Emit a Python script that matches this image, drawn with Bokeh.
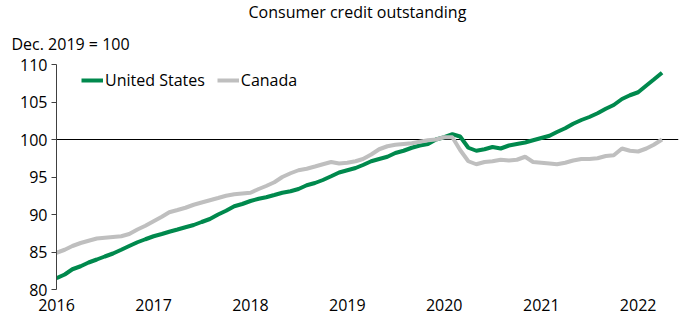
import pandas as pd
from bokeh.plotting import figure
from bokeh.models import (Range1d, FixedTicker, DatetimeTickFormatter, Span, Title,
                          Legend, LegendItem)
from bokeh.embed import file_html
from bokeh.resources import INLINE

# ---- data (monthly, Jan 2016 - Apr 2022; Dec. 2019 = 100) ----
start_month = "2016-01-01"
n_months = 76
united_states = [
    81.5, 82.0, 82.7, 83.1, 83.6, 84.0, 84.4, 84.8, 85.3, 85.8, 86.3, 86.7,
    87.1, 87.4, 87.7, 88.0, 88.3, 88.6, 89.0, 89.4, 90.0, 90.5, 91.1, 91.4,
    91.8, 92.1, 92.3, 92.6, 92.9, 93.1, 93.4, 93.9, 94.2, 94.6, 95.1, 95.6,
    95.9, 96.2, 96.6, 97.1, 97.4, 97.7, 98.2, 98.5, 98.9, 99.2, 99.4, 100.0,
    100.3, 100.7, 100.4, 98.9, 98.5, 98.7, 99.0, 98.8, 99.2, 99.4, 99.6, 99.9,
    100.2, 100.5, 101.0, 101.5, 102.1, 102.6, 103.0, 103.5, 104.1, 104.6, 105.4, 105.9,
    106.3, 107.2, 108.0, 108.9,
]
canada = [
    84.9, 85.3, 85.8, 86.2, 86.5, 86.8, 86.9, 87.0, 87.1, 87.4, 88.0, 88.5,
    89.1, 89.7, 90.3, 90.6, 90.9, 91.3, 91.6, 91.9, 92.2, 92.5, 92.7, 92.8,
    92.9, 93.4, 93.8, 94.3, 95.0, 95.5, 95.9, 96.1, 96.4, 96.7, 97.0, 96.8,
    96.9, 97.1, 97.4, 98.0, 98.7, 99.1, 99.3, 99.4, 99.5, 99.7, 99.9, 100.0,
    100.3, 100.3, 98.6, 97.1, 96.7, 97.0, 97.1, 97.3, 97.2, 97.3, 97.7, 97.0,
    96.9, 96.8, 96.7, 96.9, 97.2, 97.4, 97.4, 97.5, 97.8, 97.9, 98.8, 98.5,
    98.4, 98.8, 99.3, 100.0,
]
year_ticks = [2016, 2017, 2018, 2019, 2020, 2021, 2022]
y_ticks = [80, 85, 90, 95, 100, 105, 110]
series_names = ["United States", "Canada"]

dates = pd.date_range(start_month, periods=n_months, freq="MS")

GREEN = "#00894D"
GREY = "#BFBFBF"
FONT = "Open Sans"
FS = "16px"

p = figure(width=684, height=314, x_axis_type="datetime",
           output_backend="svg", toolbar_location=None,
           x_range=Range1d(pd.Timestamp("2016-01-01"), pd.Timestamp("2022-06-02")),
           y_range=Range1d(80, 110),
           min_border_left=56, min_border_right=6, min_border_top=64,
           min_border_bottom=25, outline_line_color=None,
           title="Consumer credit outstanding")
p.title.align = "left"
p.title.offset = 192
p.title.text_font = FONT
p.title.text_font_size = FS
p.title.text_font_style = "normal"
p.title.text_color = "black"
p.title.standoff = -5

sub = Title(text="Dec. 2019 = 100", align="left", offset=-45, text_font=FONT,
            text_font_size=FS, text_font_style="normal", text_color="black", standoff=20)
p.add_layout(sub, "above")

p.grid.visible = False
p.background_fill_color = "white"
p.border_fill_color = "white"

# x axis: labels only
p.xaxis.ticker = FixedTicker(ticks=[pd.Timestamp(f"{y}-01-01").value / 1e6 for y in year_ticks])
p.xaxis.formatter = DatetimeTickFormatter(years="%Y", months="%Y", days="%Y", hours="%Y")
p.xaxis.axis_line_color = None
p.xaxis.major_tick_line_color = None
p.xaxis.minor_tick_line_color = None
p.xaxis.major_label_standoff = 3
p.xaxis.major_label_text_font = FONT
p.xaxis.major_label_text_font_size = FS
p.xaxis.major_label_text_color = "black"

# y axis
p.yaxis.ticker = FixedTicker(ticks=y_ticks)
p.yaxis.axis_line_color = "#404040"
p.yaxis.major_tick_line_color = "#404040"
p.yaxis.major_tick_out = 5
p.yaxis.major_tick_in = 0
p.yaxis.minor_tick_line_color = None
p.yaxis.major_label_standoff = 4
p.yaxis.major_label_text_font = FONT
p.yaxis.major_label_text_font_size = FS
p.yaxis.major_label_text_color = "black"

p.add_layout(Span(location=100, dimension="width", line_color="black",
                  line_width=1, level="underlay"))

r_us = p.line(dates, united_states, line_color=GREEN, line_width=4)
r_ca = p.line(dates, canada, line_color=GREY, line_width=4)

legend = Legend(items=[LegendItem(label=series_names[0], renderers=[r_us]),
                       LegendItem(label=series_names[1], renderers=[r_ca])],
                orientation="horizontal", location=(25, 198),
                border_line_color=None, background_fill_alpha=0,
                padding=0, margin=0, spacing=12, glyph_width=22,
                label_standoff=2, label_text_font=FONT, label_text_font_size=FS,
                label_text_color="black")
p.add_layout(legend)

open("out.html", "w").write(file_html(p, INLINE))
